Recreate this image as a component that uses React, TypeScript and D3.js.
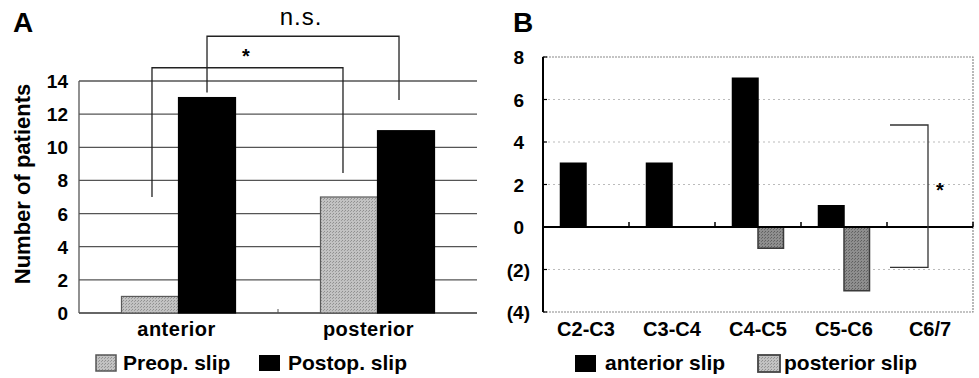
import React from "react";
import * as d3 from "d3";

// Panel A data
const categoriesA = ["anterior", "posterior"];
const seriesA = ["Preop. slip", "Postop. slip"];
const preopSlip = [1, 7];
const postopSlip = [13, 11];
const yTicksA = [0, 2, 4, 6, 8, 10, 12, 14];

// Panel B data
const levelsB = ["C2-C3", "C3-C4", "C4-C5", "C5-C6", "C6/7"];
const seriesB = ["anterior slip", "posterior slip"];
const anteriorSlip = [3, 3, 7, 1, 0];
const posteriorSlip = [0, 0, -1, -3, 0];
const yTicksB = [-4, -2, 0, 2, 4, 6, 8];

const FONT = "'Liberation Sans', Arial, Helvetica, sans-serif";

export default function App() {
  // ---------- Panel A ----------
  const xA = d3.scaleBand<string>().domain(categoriesA).range([79, 477]).padding(0);
  const x1A = d3.scaleBand<string>().domain(seriesA).range([0, xA.bandwidth()]).paddingInner(0).paddingOuter(0.745);
  const yA = d3.scaleLinear().domain([0, 14]).range([313, 81]);
  const fillA = ["#b5b5b5", "#000"];
  const strokeA = ["#5a5a5a", "#000"];
  const valsA = [preopSlip, postopSlip];

  const barCenterA = (cat: string, s: string) => (xA(cat) as number) + (x1A(s) as number) + x1A.bandwidth() / 2;

  const bracketsA = [
    { from: [categoriesA[0], seriesA[0]], to: [categoriesA[1], seriesA[0]], top: 14.8, left: 7.0, right: 8.45, label: "*", size: 20 },
    { from: [categoriesA[0], seriesA[1]], to: [categoriesA[1], seriesA[1]], top: 16.7, left: 13.3, right: 12.85, label: "n.s.", size: 24 },
  ];

  // ---------- Panel B ----------
  const xB = d3.scaleBand<string>().domain(levelsB).range([543, 973]).padding(0);
  const x1B = d3.scaleBand<string>().domain(seriesB).range([0, xB.bandwidth()]).paddingInner(0).paddingOuter(0.686);
  const yB = d3.scaleLinear().domain([-4, 8]).range([312, 57]);
  const valsB = [anteriorSlip, posteriorSlip];
  const fillB = ["#000", "#8a8a8a"];
  const strokeB = ["#000", "#3a3a3a"];
  const fmtB = (v: number) => (v < 0 ? `(${Math.abs(v)})` : `${v}`);

  const bracketB = { xLeft: 890, xRight: 928, top: 4.8, bottom: -1.9, star: 2.0 };

  return (
    <svg width={979} height={378} style={{ position: "absolute", left: 0, top: 0, background: "#fff" }} fontFamily={FONT}>
      <defs>
        <pattern id="dotsA" width="3" height="3" patternUnits="userSpaceOnUse">
          <rect width="3" height="3" fill="#c2c2c2" />
          <rect x="0" y="0" width="1" height="1" fill="#8f8f8f" />
          <rect x="2" y="1" width="1" height="1" fill="#9a9a9a" />
        </pattern>
        <pattern id="dotsB" width="3" height="3" patternUnits="userSpaceOnUse">
          <rect width="3" height="3" fill="#8e8e8e" />
          <rect x="0" y="0" width="1" height="1" fill="#5e5e5e" />
          <rect x="2" y="1" width="1" height="1" fill="#6a6a6a" />
        </pattern>
      </defs>

      {/* ===== Panel A ===== */}
      <text x={13} y={32} fontSize={28} fontWeight="bold">A</text>

      {yTicksA.map((t) => (
        <g key={`ga${t}`}>
          <line x1={79} x2={477} y1={yA(t)} y2={yA(t)} stroke={t === 0 ? "#333" : "#555"} strokeWidth={t === 0 ? 1.5 : 1.3} />
          <text x={68} y={yA(t) + 7} fontSize={19} fontWeight="bold" textAnchor="end">{t}</text>
        </g>
      ))}
      <line x1={79} x2={79} y1={yA(14)} y2={yA(0)} stroke="#555" strokeWidth={1.3} />
      <line x1={xA(categoriesA[1]) as number} x2={xA(categoriesA[1]) as number} y1={yA(0)} y2={yA(0) - 4} stroke="#555" strokeWidth={1} />

      <text transform={`translate(30,${(yA(0) + yA(14)) / 2 - 13}) rotate(-90)`} fontSize={22} fontWeight="bold" textAnchor="middle">
        Number of patients
      </text>

      {categoriesA.map((c, ci) =>
        seriesA.map((s, si) => {
          const v = valsA[si][ci];
          return (
            <rect
              key={`ba${c}${s}`}
              x={(xA(c) as number) + (x1A(s) as number)}
              y={yA(v)}
              width={x1A.bandwidth()}
              height={yA(0) - yA(v)}
              fill={si === 0 ? "url(#dotsA)" : fillA[si]}
              stroke={strokeA[si]}
              strokeWidth={1.2}
            />
          );
        })
      )}

      {categoriesA.map((c, ci) => (
        <text key={`la${c}`} x={(xA(c) as number) + xA.bandwidth() / 2 - (ci === 0 ? 2 : 9)} y={336} fontSize={20} fontWeight="bold" textAnchor="middle" letterSpacing={0.5}>
          {c}
        </text>
      ))}

      {bracketsA.map((b, i) => {
        const xl = barCenterA(b.from[0], b.from[1]) + (i === 0 ? 2 : 0);
        const xr = barCenterA(b.to[0], b.to[1]) - (i === 0 ? 6 : 7);
        return (
          <g key={`br${i}`}>
            <path
              d={`M${xl},${yA(b.left)} V${yA(b.top)} H${xr} V${yA(b.right)}`}
              fill="none"
              stroke="#222"
              strokeWidth={1.3}
            />
            <text
              x={i === 0 ? 246 : 301}
              y={i === 0 ? 63 : 25}
              fontSize={b.size}
              fontWeight={i === 0 ? "bold" : "normal"}
              textAnchor="middle"
              letterSpacing={i === 0 ? 0 : 1}
            >
              {b.label}
            </text>
          </g>
        );
      })}

      {/* Legend A */}
      <rect x={96} y={355} width={20} height={16} fill="url(#dotsA)" stroke="#555" strokeWidth={1.5} />
      <text x={123} y={370} fontSize={21} fontWeight="bold">{seriesA[0]}</text>
      <rect x={259} y={355} width={21} height={16} fill="#000" />
      <text x={288} y={370} fontSize={21} fontWeight="bold">{seriesA[1]}</text>

      {/* ===== Panel B ===== */}
      <text x={513} y={32} fontSize={28} fontWeight="bold">B</text>

      <rect x={543} y={yB(8)} width={973 - 543} height={yB(-4) - yB(8)} fill="none" stroke="#8a8a8a" strokeWidth={1.2} strokeDasharray="2,1" />
      {yTicksB.map((t) => (
        <g key={`gb${t}`}>
          {t !== 0 && t !== 8 && t !== -4 && (
            <line x1={543} x2={973} y1={yB(t)} y2={yB(t)} stroke="#bbb" strokeWidth={1} strokeDasharray="2,3" />
          )}
          <line x1={543} x2={547} y1={yB(t)} y2={yB(t)} stroke="#000" strokeWidth={1.2} />
          <text x={t < 0 ? 530 : 524} y={yB(t) + 7} fontSize={19} fontWeight="bold" textAnchor="end">{fmtB(t)}</text>
        </g>
      ))}
      <line x1={543} x2={543} y1={yB(8)} y2={yB(-4)} stroke="#000" strokeWidth={2} />

      {levelsB.map((c, ci) =>
        seriesB.map((s, si) => {
          const v = valsB[si][ci];
          if (v === 0) return null;
          const y0 = Math.min(yB(0), yB(v));
          return (
            <rect
              key={`bb${c}${s}`}
              x={(xB(c) as number) + (x1B(s) as number)}
              y={y0}
              width={x1B.bandwidth()}
              height={Math.abs(yB(0) - yB(v))}
              fill={si === 1 ? "url(#dotsB)" : fillB[si]}
              stroke={strokeB[si]}
              strokeWidth={1.5}
            />
          );
        })
      )}

      <line x1={543} x2={973} y1={yB(0)} y2={yB(0)} stroke="#000" strokeWidth={2} />
      {levelsB.map((c) => {
        const xe = (xB(c) as number) + xB.bandwidth();
        return <line key={`tb${c}`} x1={xe} x2={xe} y1={yB(0)} y2={yB(0) - 5} stroke="#000" strokeWidth={1.5} />;
      })}

      {levelsB.map((c) => (
        <text key={`lb${c}`} x={(xB(c) as number) + xB.bandwidth() / 2} y={336} fontSize={20} fontWeight="bold" textAnchor="middle">
          {c}
        </text>
      ))}

      <path
        d={`M${bracketB.xLeft},${yB(bracketB.top)} H${bracketB.xRight} V${yB(bracketB.bottom)} H${bracketB.xLeft}`}
        fill="none"
        stroke="#333"
        strokeWidth={1.3}
      />
      <text x={940} y={yB(bracketB.star) + 12} fontSize={20} fontWeight="bold" textAnchor="middle">*</text>

      {/* Legend B */}
      <rect x={575} y={355} width={21} height={17} fill="#000" />
      <text x={605} y={370} fontSize={21} fontWeight="bold">{seriesB[0]}</text>
      <rect x={758} y={355} width={22} height={17} fill="url(#dotsA)" stroke="#444" strokeWidth={1.8} />
      <text x={784} y={370} fontSize={21} fontWeight="bold">{seriesB[1]}</text>
    </svg>
  );
}
